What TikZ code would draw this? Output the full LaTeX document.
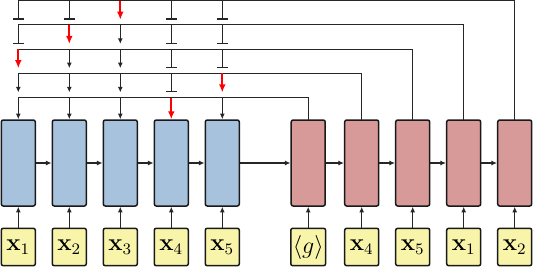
\documentclass[tikz,border=0pt]{standalone}
\usepackage{tikz}
\usetikzlibrary{arrows.meta,positioning}

\definecolor{encblue}{RGB}{166,194,220}
\definecolor{decred}{RGB}{216,153,153}
\definecolor{tokyellow}{RGB}{248,245,170}

\begin{document}
\begin{tikzpicture}[
    node distance=7.75pt and 7.75pt,
    cell/.style={
        rectangle, rounded corners=1pt, draw=black!90, line width=0.75pt,
        minimum width=17pt, minimum height=43pt, inner sep=0pt
    },
    enccell/.style={cell, fill=encblue},
    deccell/.style={cell, fill=decred},
    token/.style={
        rectangle, rounded corners=1pt, draw=black!90, line width=0.75pt,
        fill=tokyellow, minimum width=17pt, minimum height=18.7pt,
        inner sep=1pt, font=\large
    },
    arrow/.style={-{Latex[length=2.8pt,width=2.5pt]}, line width=0.6pt, black!85},
    link/.style={line width=0.6pt, black!85, line cap=rect},
    blocked/.style={-{Bar[width=5.8pt]}, line width=0.6pt, black!85},
    picked/.style={-{Latex[length=4pt,width=3.4pt]}, line width=1pt, red}
]
\useasboundingbox (0,0) rectangle (266.5pt,-133.5pt);

% encoder
\node[enccell] (enc1) at (9.15pt,-81.5pt) {};
\node[enccell, right=of enc1] (enc2) {};
\node[enccell, right=of enc2] (enc3) {};
\node[enccell, right=of enc3] (enc4) {};
\node[enccell, right=of enc4] (enc5) {};

% decoder
\node[deccell, right=25.2pt of enc5] (dec1) {};
\node[deccell, right=9pt of dec1] (dec2) {};
\node[deccell, right=of dec2] (dec3) {};
\node[deccell, right=of dec3] (dec4) {};
\node[deccell, right=of dec4] (dec5) {};

% inputs
\node[token, below=10.4pt of enc1] (in1) {$\mathbf{x}_1$};
\node[token, below=10.4pt of enc2] (in2) {$\mathbf{x}_2$};
\node[token, below=10.4pt of enc3] (in3) {$\mathbf{x}_3$};
\node[token, below=10.4pt of enc4] (in4) {$\mathbf{x}_4$};
\node[token, below=10.4pt of enc5] (in5) {$\mathbf{x}_5$};
\node[token, below=10.4pt of dec1] (din1) {$\langle g\rangle$};
\node[token, below=10.4pt of dec2] (din2) {$\mathbf{x}_4$};
\node[token, below=10.4pt of dec3] (din3) {$\mathbf{x}_5$};
\node[token, below=10.4pt of dec4] (din4) {$\mathbf{x}_1$};
\node[token, below=10.4pt of dec5] (din5) {$\mathbf{x}_2$};

% pointer rows and their stops
\coordinate[above=10.8pt of enc1.north] (r5);
\coordinate[above=12.125pt of r5] (r4);
\coordinate[above=12.125pt of r4] (r3);
\coordinate[above=12.125pt of r3] (r2);
\coordinate[above=12.125pt of r2] (r1);
\coordinate[below=9.5pt of r4] (s4);
\coordinate[below=9.5pt of r3] (s3);
\coordinate[below=9.5pt of r2] (s2);
\coordinate[below=9.5pt of r1] (s1);

\draw[arrow] (in1) -- (enc1);
\draw[arrow] (in2) -- (enc2);
\draw[arrow] (in3) -- (enc3);
\draw[arrow] (in4) -- (enc4);
\draw[arrow] (in5) -- (enc5);
\draw[arrow] (din1) -- (dec1);
\draw[arrow] (din2) -- (dec2);
\draw[arrow] (din3) -- (dec3);
\draw[arrow] (din4) -- (dec4);
\draw[arrow] (din5) -- (dec5);

\draw[arrow] (enc1) -- (enc2);
\draw[arrow] (enc2) -- (enc3);
\draw[arrow] (enc3) -- (enc4);
\draw[arrow] (enc4) -- (enc5);
\draw[arrow] (enc5) -- (dec1);
\draw[arrow] (dec1) -- (dec2);
\draw[arrow] (dec2) -- (dec3);
\draw[arrow] (dec3) -- (dec4);
\draw[arrow] (dec4) -- (dec5);

% step 1
\draw[link] (dec1.north) |- (enc1 |- r5);
\draw[arrow] (enc1 |- r5) -- (enc1.north);
\draw[arrow] (enc2 |- r5) -- (enc2.north);
\draw[arrow] (enc3 |- r5) -- (enc3.north);
\draw[picked] (enc4 |- r5) -- (enc4.north);
\draw[arrow] (enc5 |- r5) -- (enc5.north);

% step 2
\draw[link] (dec2.north) |- (enc1 |- r4);
\draw[arrow] (enc1 |- r4) -- (enc1 |- s4);
\draw[arrow] (enc2 |- r4) -- (enc2 |- s4);
\draw[arrow] (enc3 |- r4) -- (enc3 |- s4);
\draw[blocked] (enc4 |- r4) -- (enc4 |- s4);
\draw[picked] (enc5 |- r4) -- (enc5 |- s4);

% step 3
\draw[link] (dec3.north) |- (enc1 |- r3);
\draw[picked] (enc1 |- r3) -- (enc1 |- s3);
\draw[arrow] (enc2 |- r3) -- (enc2 |- s3);
\draw[arrow] (enc3 |- r3) -- (enc3 |- s3);
\draw[blocked] (enc4 |- r3) -- (enc4 |- s3);
\draw[blocked] (enc5 |- r3) -- (enc5 |- s3);

% step 4
\draw[link] (dec4.north) |- (enc1 |- r2);
\draw[blocked] (enc1 |- r2) -- (enc1 |- s2);
\draw[picked] (enc2 |- r2) -- (enc2 |- s2);
\draw[arrow] (enc3 |- r2) -- (enc3 |- s2);
\draw[blocked] (enc4 |- r2) -- (enc4 |- s2);
\draw[blocked] (enc5 |- r2) -- (enc5 |- s2);

% step 5
\draw[link] (dec5.north) |- (enc1 |- r1);
\draw[blocked] (enc1 |- r1) -- (enc1 |- s1);
\draw[blocked] (enc2 |- r1) -- (enc2 |- s1);
\draw[picked] (enc3 |- r1) -- (enc3 |- s1);
\draw[blocked] (enc4 |- r1) -- (enc4 |- s1);
\draw[blocked] (enc5 |- r1) -- (enc5 |- s1);
\end{tikzpicture}
\end{document}
